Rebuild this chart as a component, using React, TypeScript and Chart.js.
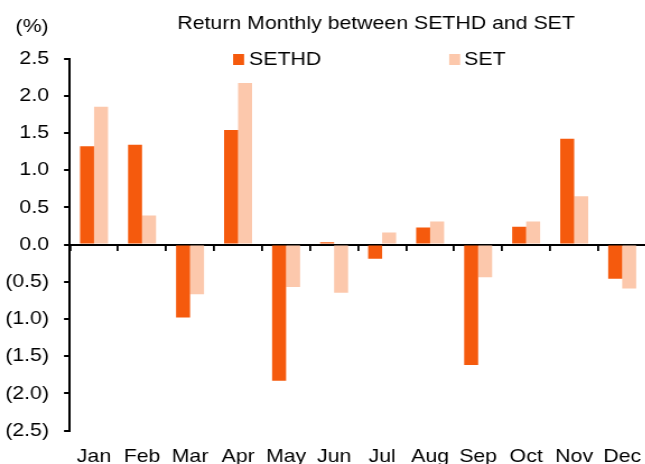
import React, { useEffect, useRef } from "react";
import { Chart, registerables } from "chart.js";

Chart.register(...registerables);

const TITLE = "Return Monthly between SETHD and SET";
const UNIT_LABEL = "(%)";
const MONTHS = ["Jan", "Feb", "Mar", "Apr", "May", "Jun", "Jul", "Aug", "Sep", "Oct", "Nov", "Dec"];
const SETHD = [1.32, 1.34, -0.98, 1.54, -1.83, 0.03, -0.19, 0.23, -1.62, 0.24, 1.42, -0.46];
const SET = [1.85, 0.39, -0.67, 2.17, -0.57, -0.65, 0.16, 0.31, -0.44, 0.31, 0.65, -0.59];
const Y_MIN = -2.5;
const Y_MAX = 2.5;
const Y_STEP = 0.5;

const ORANGE = "#F55A0D";
const PEACH = "#FCC8AC";
const FONT = '"Liberation Sans", Arial, sans-serif';
const FS = 19;

// horizontal stretch of the reference picture
const S = 1.12;
const px = (css: number) => css / S;
const CW = 590; // internal canvas width
const CH = 480; // internal canvas height

const fmt = (v: number) => {
  const a = Math.abs(v).toFixed(1);
  return v < -1e-9 ? `(${a})` : a;
};

const overlay = {
  id: "overlay",
  afterDraw(chart: any) {
    const ctx = chart.ctx;
    ctx.save();
    ctx.fillStyle = "#000";
    ctx.font = `${FS}px ${FONT}`;
    ctx.textBaseline = "middle";
    ctx.textAlign = "center";
    ctx.fillText(TITLE, px(376), 24);
    ctx.textAlign = "left";
    ctx.fillText(UNIT_LABEL, px(15.5), 27);
    const items = [
      { x: px(233), tx: px(249) },
      { x: px(449), tx: px(464) },
    ];
    chart.data.datasets.forEach((ds: any, i: number) => {
      const it = items[i];
      ctx.fillStyle = ds.backgroundColor;
      ctx.fillRect(it.x, 54, px(11), 11);
      ctx.fillStyle = "#000";
      ctx.fillText(ds.label, it.tx, 60);
    });
    ctx.restore();
  },
};

export default function App() {
  const ref = useRef<HTMLCanvasElement | null>(null);
  useEffect(() => {
    if (!ref.current) return;
    const chart = new Chart(ref.current, {
      type: "bar",
      data: {
        labels: MONTHS,
        datasets: [
          { label: "SETHD", data: SETHD, backgroundColor: ORANGE, categoryPercentage: 0.583, barPercentage: 1.0 },
          { label: "SET", data: SET, backgroundColor: PEACH, categoryPercentage: 0.583, barPercentage: 1.0 },
        ],
      },
      options: {
        animation: false,
        responsive: false,
        devicePixelRatio: 1,
        layout: { padding: { top: 58.5, left: 0, right: CW - px(646), bottom: 0 } },
        plugins: { legend: { display: false }, title: { display: false }, tooltip: { enabled: false } },
        scales: {
          x: {
            type: "category",
            position: "bottom",
            offset: true,
            grid: { display: false, drawTicks: false },
            border: { display: false },
            ticks: { color: "#000", font: { family: FONT, size: FS }, padding: 15, maxRotation: 0, autoSkip: false },
            afterFit: (s: any) => { s.height = CH - 430.5; },
          },
          x2: {
            type: "category",
            position: { y: 0 },
            offset: true,
            grid: { offset: true, drawOnChartArea: false, drawTicks: true, tickLength: 5, color: "#000", lineWidth: 1.8 },
            border: { display: true, color: "#000", width: 2 },
            ticks: { display: false },
          },
          y: {
            min: Y_MIN,
            max: Y_MAX,
            grid: { drawOnChartArea: false, drawTicks: true, tickLength: px(6), color: "#000", lineWidth: 2 },
            border: { display: true, color: "#000", width: 2 },
            ticks: {
              stepSize: Y_STEP,
              color: "#000",
              font: { family: FONT, size: FS },
              padding: px(15),
              callback: (v: any) => fmt(Number(v)),
            },
            afterFit: (s: any) => { s.width = px(70); },
          },
        },
      },
      plugins: [overlay],
    } as any);
    return () => chart.destroy();
  }, []);
  return (
    <div style={{ position: "absolute", left: 0, top: 0, width: 645, height: 464, overflow: "hidden", background: "#fff" }}>
      <canvas ref={ref} width={CW} height={CH} style={{ width: `${CW * S}px`, height: `${CH}px`, display: "block" }} />
    </div>
  );
}
